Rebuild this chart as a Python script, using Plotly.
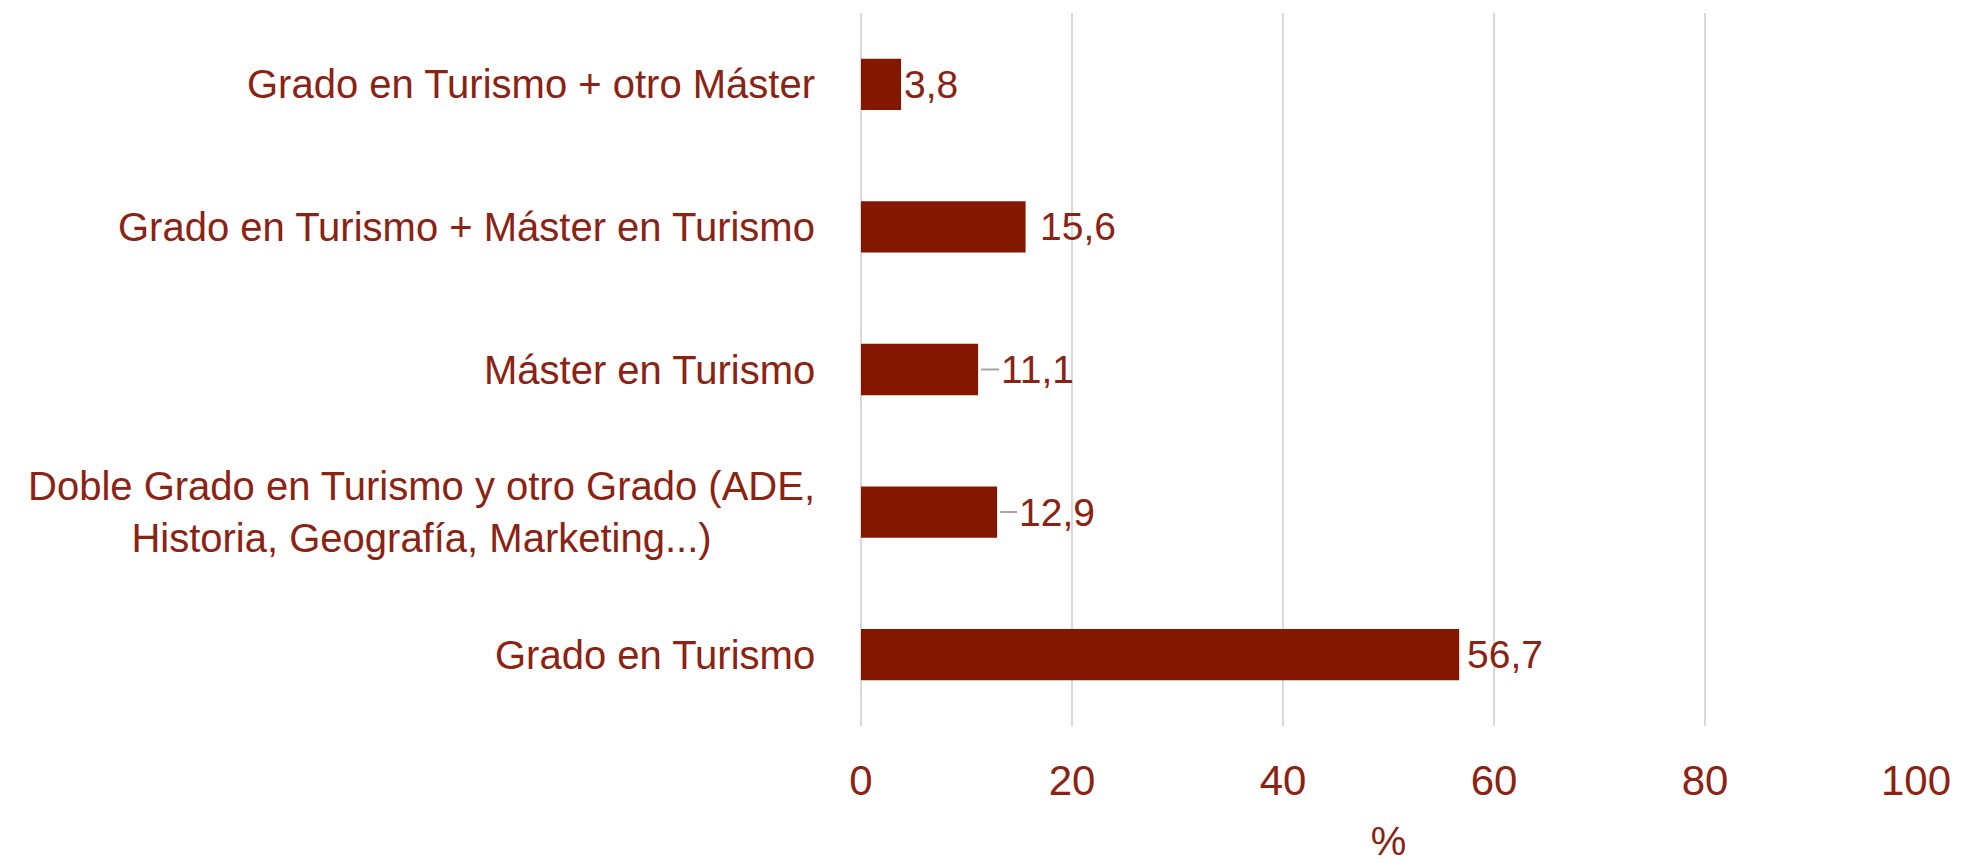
import plotly.graph_objects as go

categories = [
    "Grado en Turismo",
    "Doble Grado en Turismo y otro Grado (ADE,<br>Historia, Geografía, Marketing...)",
    "Máster en Turismo",
    "Grado en Turismo + Máster en Turismo",
    "Grado en Turismo + otro Máster",
]
values = [56.7, 12.9, 11.1, 15.6, 3.8]
value_labels = ["56,7", "12,9", "11,1", "15,6", "3,8"]
x_ticks = [0, 20, 40, 60, 80, 100]

# label placement style (pixel gaps after bar end, leader line flags)
label_gaps = [6, 20, 21, 12, 1]
leader = [False, True, True, False, False]

BAR = "#841700"
TXT = "#8B2212"
FONT = "Liberation Sans, Arial, sans-serif"

fig = go.Figure()
fig.add_trace(go.Bar(
    x=values, y=list(range(len(categories))), orientation="h",
    marker=dict(color=BAR, line=dict(width=0)),
    width=0.36, hoverinfo="x+y",
))

for i, c in enumerate(categories):
    fig.add_annotation(
        x=0, xref="paper", y=i, yref="y", text=c, showarrow=False,
        xanchor="right", yanchor="middle", align="center", xshift=-44,
        font=dict(family=FONT, size=40, color=TXT),
    )

for i, (v, lab) in enumerate(zip(values, value_labels)):
    if leader[i]:
        fig.add_annotation(
            x=v, y=i, xref="x", yref="y", text=lab,
            showarrow=True, ax=label_gaps[i], ay=0, axref="pixel", ayref="pixel",
            xanchor="left", yanchor="middle",
            arrowhead=0, arrowwidth=2, arrowcolor="#a6a6a6", standoff=3,
            font=dict(family=FONT, size=39, color=TXT),
        )
    else:
        fig.add_annotation(
            x=v, y=i, xref="x", yref="y", text=lab, showarrow=False,
            xanchor="left", yanchor="middle", xshift=label_gaps[i],
            font=dict(family=FONT, size=39, color=TXT),
        )

fig.update_layout(
    width=1978, height=855,
    margin=dict(l=853, r=70, t=5, b=137),
    plot_bgcolor="white", paper_bgcolor="white",
    showlegend=False,
    xaxis=dict(
        range=[0, 100], tickvals=x_ticks, ticktext=[str(t) for t in x_ticks],
        showgrid=True, gridcolor="#d9d9d9", gridwidth=1.5,
        zeroline=True, zerolinecolor="#d9d9d9", zerolinewidth=1.5,
        showline=False, ticks="", ticklabelstandoff=26,
        tickfont=dict(family=FONT, size=42, color=TXT),
        title=dict(text="%", font=dict(family=FONT, size=40, color=TXT), standoff=24),
    ),
    yaxis=dict(
        range=[-0.5, len(categories) - 0.5], showticklabels=False,
        showgrid=False, zeroline=False, ticks="",
    ),
)

fig.write_html("out.html")
